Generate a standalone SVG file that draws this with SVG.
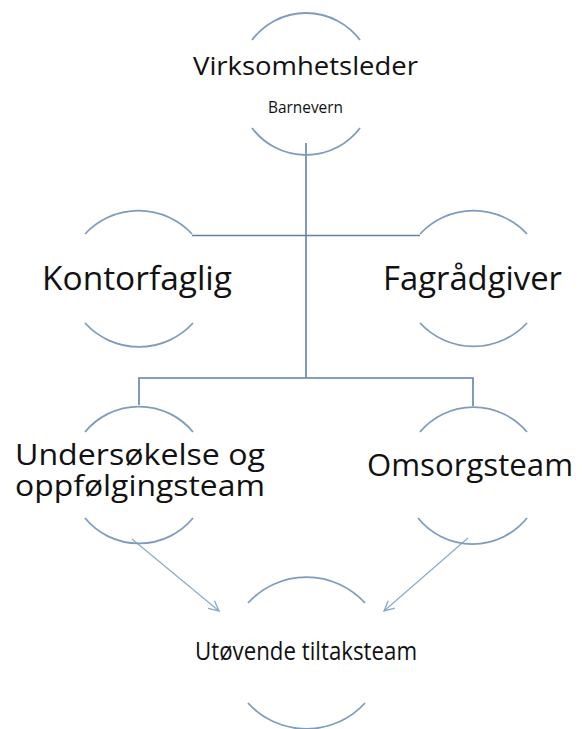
<svg xmlns="http://www.w3.org/2000/svg" width="582" height="729" viewBox="0 0 582 729">
<defs>
<style>
.arc{fill:none;stroke:#7f9cbc;stroke-width:1.8}
.ln{fill:none;stroke:#5f80a8;stroke-width:1.6}
.ar{fill:none;stroke:#86a9c8;stroke-width:1.1}
.t{font-family:"Open Sans","Noto Sans","DejaVu Sans",sans-serif;fill:#111;text-anchor:middle}
.big{font-size:33px}
.om{font-size:31px}
.two{font-size:29px}
.mid{font-size:26px}
.sm{font-size:16px}
</style>
<marker id="ah" markerUnits="userSpaceOnUse" markerWidth="14" markerHeight="14" refX="11" refY="6" orient="auto" viewBox="0 0 14 12">
<path d="M1,1 L11,6 L1,11" fill="none" stroke="#86a9c8" stroke-width="1.3"/>
</marker>
</defs>
<rect width="582" height="729" fill="#fff"/>
<g id="connectors">
<path class="ln" d="M306,143 V378"/>
<path class="ln" d="M192,235.5 H420"/>
<path class="ln" d="M139,405 V378 H473 V406"/>
<path class="ar" d="M132,539 L219,611" marker-end="url(#ah)"/>
<path class="ar" d="M468,538 L384,611" marker-end="url(#ah)"/>
</g>
<g id="virksomhetsleder">
<path class="arc" d="M252,40 A67.5,67.5 0 0 1 360,40"/>
<path class="arc" d="M252,128 A67.5,67.5 0 0 0 360,128"/>
<text class="t mid" x="305.5" y="75" textLength="225" lengthAdjust="spacingAndGlyphs">Virksomhetsleder</text>
<text class="t sm" x="305.5" y="113" textLength="75" lengthAdjust="spacingAndGlyphs">Barnevern</text>
</g>
<g id="kontorfaglig">
<path class="arc" d="M85,234 A73,73 0 0 1 192,234"/>
<path class="arc" d="M85,323 A73,73 0 0 0 193,323"/>
<text class="t big" x="137" y="290" textLength="190" lengthAdjust="spacingAndGlyphs">Kontorfaglig</text>
</g>
<g id="fagradgiver">
<path class="arc" d="M420,234 A73,73 0 0 1 527,234"/>
<path class="arc" d="M420,323 A73,73 0 0 0 527,323"/>
<text class="t big" x="472.5" y="290" textLength="179" lengthAdjust="spacingAndGlyphs">Fagrådgiver</text>
</g>
<g id="undersokelse">
<path class="arc" d="M85,432 A70,70 0 0 1 193,432"/>
<path class="arc" d="M85,518 A70,70 0 0 0 193,518"/>
<text class="t two" x="140" y="465" textLength="250" lengthAdjust="spacingAndGlyphs">Undersøkelse og</text>
<text class="t two" x="140" y="496" textLength="250" lengthAdjust="spacingAndGlyphs">oppfølgingsteam</text>
</g>
<g id="omsorgsteam">
<path class="arc" d="M420,432 A70,70 0 0 1 527,432"/>
<path class="arc" d="M418,518 A70,70 0 0 0 527,518"/>
<text class="t om" x="470" y="476" textLength="206" lengthAdjust="spacingAndGlyphs">Omsorgsteam</text>
</g>
<g id="utovende">
<path class="arc" d="M248,603 A79,79 0 0 1 365,603"/>
<path class="arc" d="M248,703 A79,79 0 0 0 365,703"/>
<text class="t mid" x="306" y="660" textLength="222" lengthAdjust="spacingAndGlyphs">Utøvende tiltaksteam</text>
</g>
</svg>
